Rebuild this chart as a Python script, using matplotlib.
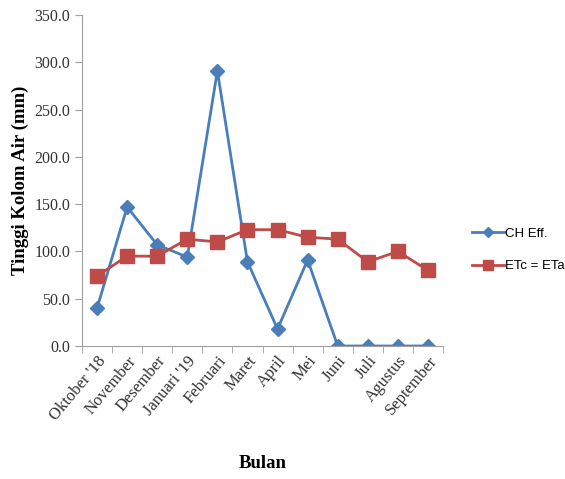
import matplotlib.pyplot as plt
import numpy as np

bulan = ["Oktober '18", "November", "Desember", "Januari '19", "Februari", "Maret",
         "April", "Mei", "Juni", "Juli", "Agustus", "September"]
ch_eff = [40, 147, 107, 94, 291, 89, 18, 91, 0, 0, 0, 0]
etc_eta = [74, 95, 95, 113, 110, 123, 123, 115, 113, 89, 100, 80]

plt.rcParams['font.family'] = ['Liberation Serif', 'DejaVu Serif']

fig = plt.figure(figsize=(5.65, 4.79), dpi=100)
ax = fig.add_axes([82 / 565, 1 - 346 / 479, 361 / 565, 331 / 479])

x = np.arange(len(bulan))
ax.plot(x, ch_eff, color='#4a7ebb', lw=2, marker='D', ms=7, label='CH Eff.')
ax.plot(x, etc_eta, color='#be4b48', lw=2, marker='s', ms=10, label='ETc = ETa')

ax.set_xlim(-0.5, len(bulan) - 0.5)
ax.set_ylim(0, 350)
ax.set_yticks(np.arange(0, 351, 50))
ax.set_yticklabels([f"{v:.1f}" for v in np.arange(0, 351, 50)], fontsize=11.5, color='#333333')
ax.set_xticks(x)
ax.set_xticklabels(bulan, rotation=50, ha='right', rotation_mode='anchor', fontsize=12, color='#333333')
ax.tick_params(axis='x', length=0, pad=5)
ax.set_xticks(np.arange(-0.5, len(bulan)), minor=True)
ax.tick_params(axis='x', which='minor', length=5, color='#a0a0a0')
ax.tick_params(axis='y', length=5, color='#a0a0a0')

for s in ['top', 'right']:
    ax.spines[s].set_visible(False)
for s in ['left', 'bottom']:
    ax.spines[s].set_color('#a0a0a0')

ax.set_ylabel('Tinggi Kolom Air (mm)', fontsize=13.5, fontweight='bold')
ax.set_xlabel('Bulan', fontsize=13.5, fontweight='bold', labelpad=23)

leg = fig.legend(loc='center left', bbox_to_anchor=(460 / 565, 1 - 250 / 479), frameon=False,
                 prop={'family': 'Liberation Sans', 'size': 9.5}, handlelength=2.4,
                 labelspacing=1.5, handletextpad=0.1, markerscale=0.7)

fig.savefig('out.png', dpi=100)
